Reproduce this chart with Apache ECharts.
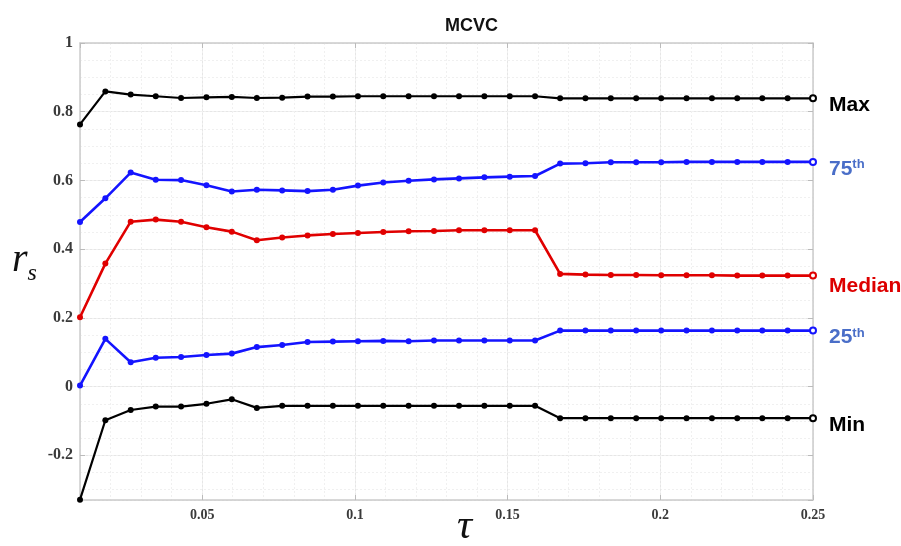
<!DOCTYPE html>
<html>
<head>
<meta charset="utf-8">
<script src="https://cdn.jsdelivr.net/npm/echarts@6/dist/echarts.min.js"></script>
<style>
  html, body { margin: 0; padding: 0; background: #fff; }
  #chart { width: 901px; height: 546px; }
</style>
</head>
<body>
<div id="chart"></div>
<script>
// tau values (30 evenly spaced points)
const tau = [0.01, 0.0183, 0.0266, 0.0348, 0.0431, 0.0514, 0.0597, 0.0679, 0.0762, 0.0845,
             0.0928, 0.1010, 0.1093, 0.1176, 0.1259, 0.1341, 0.1424, 0.1507, 0.1590, 0.1672,
             0.1755, 0.1838, 0.1921, 0.2003, 0.2086, 0.2169, 0.2252, 0.2334, 0.2417, 0.25];

const maxVals = [0.763, 0.859, 0.850, 0.845, 0.840, 0.842, 0.843, 0.840, 0.841, 0.844,
                 0.844, 0.845, 0.845, 0.845, 0.845, 0.845, 0.845, 0.845, 0.845, 0.839,
                 0.839, 0.839, 0.839, 0.839, 0.839, 0.839, 0.839, 0.839, 0.839, 0.839];
const p75Vals = [0.479, 0.548, 0.623, 0.602, 0.601, 0.586, 0.568, 0.573, 0.571, 0.569,
                 0.573, 0.585, 0.594, 0.599, 0.603, 0.606, 0.609, 0.611, 0.613, 0.649,
                 0.650, 0.653, 0.653, 0.653, 0.654, 0.654, 0.654, 0.654, 0.654, 0.654];
const medianVals = [0.202, 0.358, 0.480, 0.486, 0.480, 0.464, 0.451, 0.426, 0.434, 0.440,
                    0.444, 0.447, 0.450, 0.452, 0.453, 0.455, 0.455, 0.455, 0.455, 0.328,
                    0.326, 0.325, 0.325, 0.324, 0.324, 0.324, 0.323, 0.323, 0.323, 0.323];
const p25Vals = [0.003, 0.139, 0.071, 0.084, 0.086, 0.092, 0.096, 0.115, 0.121, 0.130,
                 0.131, 0.132, 0.133, 0.132, 0.134, 0.134, 0.134, 0.134, 0.134, 0.163,
                 0.163, 0.163, 0.163, 0.163, 0.163, 0.163, 0.163, 0.163, 0.163, 0.163];
const minVals = [-0.329, -0.098, -0.068, -0.058, -0.058, -0.050, -0.037, -0.062, -0.056, -0.056,
                 -0.056, -0.056, -0.056, -0.056, -0.056, -0.056, -0.056, -0.056, -0.056, -0.092,
                 -0.092, -0.092, -0.092, -0.092, -0.092, -0.092, -0.092, -0.092, -0.092, -0.092];

const xMin = 0.01, xMax = 0.25;
const yMin = -0.33, yMax = 1;

function pairs(vals) {
    return vals.map(function (v, i) {
        const item = { value: [tau[i], v] };
        if (i === vals.length - 1) item.symbol = 'emptyCircle';
        return item;
    });
}

function makeSeries(name, vals, color, width, labelColor, label, offset) {
    return {
        name: name,
        type: 'line',
        xAxisIndex: 0,
        yAxisIndex: 0,
        data: pairs(vals),
        symbol: 'circle',
        symbolSize: 6,
        lineStyle: { color: color, width: width },
        itemStyle: { color: color },
        emphasis: { disabled: true },
        endLabel: {
            show: true,
            formatter: label,
            offset: offset,
            color: labelColor,
            fontFamily: 'Liberation Sans, Arial, sans-serif',
            fontWeight: 'bold',
            fontSize: 21,
            rich: {
                b: { fontSize: 21, fontWeight: 'bold', color: labelColor,
                     fontFamily: 'Liberation Sans, Arial, sans-serif' },
                sup: { fontSize: 13, fontWeight: 'bold', color: labelColor, verticalAlign: 'top',
                       fontFamily: 'Liberation Sans, Arial, sans-serif', padding: [0, 0, 9, 0] }
            }
        }
    };
}

const chart = echarts.init(document.getElementById('chart'));
chart.setOption({
    animation: false,
    title: {
        text: 'MCVC',
        left: 440,
        top: 12,
        textStyle: { fontFamily: 'Liberation Sans, Arial, sans-serif', fontWeight: 'bold', fontSize: 18, color: '#111' }
    },
    grid: { left: 80, right: 88, top: 43, bottom: 46 },
    xAxis: [
        {
            type: 'value', position: 'bottom', min: xMin, max: xMax,
            minInterval: 0.05, maxInterval: 0.05,
            axisLine: { show: true, onZero: false, lineStyle: { color: '#cccccc', width: 1.5 } },
            axisTick: { show: true, inside: true, length: 5, lineStyle: { color: '#bbbbbb' } },
            axisLabel: {
                showMinLabel: false, margin: 8,
                color: '#3a3a3a', fontFamily: 'Liberation Serif, Times New Roman, serif',
                fontWeight: 'bold', fontSize: 14
            },
            splitLine: { show: true, lineStyle: { color: '#e6e6e6', width: 1 } }
        },
        {
            type: 'value', position: 'top', min: xMin, max: xMax,
            minInterval: 0.05, maxInterval: 0.05,
            axisLine: { show: true, onZero: false, lineStyle: { color: '#cccccc', width: 1.5 } },
            axisTick: { show: true, inside: true, length: 5, lineStyle: { color: '#bbbbbb' } },
            axisLabel: { show: false },
            splitLine: { show: false }
        },
        {
            type: 'value', position: 'bottom', min: xMin, max: xMax,
            minInterval: 0.01, maxInterval: 0.01,
            axisLine: { show: false },
            axisTick: { show: false },
            axisLabel: { show: false },
            splitLine: { show: true, lineStyle: { color: '#f0f0f0', width: 1, type: [2, 2] } },
            z: 0
        }
    ],
    yAxis: [
        {
            type: 'value', position: 'left', min: yMin, max: yMax,
            minInterval: 0.2, maxInterval: 0.2,
            axisLine: { show: true, onZero: false, lineStyle: { color: '#cccccc', width: 1.5 } },
            axisTick: { show: true, inside: true, length: 5, lineStyle: { color: '#bbbbbb' } },
            axisLabel: {
                showMinLabel: false, margin: 7,
                color: '#3a3a3a', fontFamily: 'Liberation Serif, Times New Roman, serif',
                fontWeight: 'bold', fontSize: 16
            },
            splitLine: { show: true, lineStyle: { color: '#e6e6e6', width: 1 } }
        },
        {
            type: 'value', position: 'right', min: yMin, max: yMax,
            minInterval: 0.2, maxInterval: 0.2,
            axisLine: { show: true, onZero: false, lineStyle: { color: '#cccccc', width: 1.5 } },
            axisTick: { show: true, inside: true, length: 5, lineStyle: { color: '#bbbbbb' } },
            axisLabel: { show: false },
            splitLine: { show: false }
        },
        {
            type: 'value', position: 'left', min: yMin, max: yMax,
            minInterval: 0.05, maxInterval: 0.05,
            axisLine: { show: false },
            axisTick: { show: false },
            axisLabel: { show: false },
            splitLine: { show: true, lineStyle: { color: '#f0f0f0', width: 1, type: [2, 2] } },
            z: 0
        }
    ],
    graphic: [
        {
            type: 'text', left: 12, top: 240,
            style: {
                text: '{r|r}{s|s}',
                rich: {
                    r: { fontFamily: 'Liberation Serif, Times New Roman, serif', fontStyle: 'italic', fontSize: 40, fill: '#111' },
                    s: { fontFamily: 'Liberation Serif, Times New Roman, serif', fontStyle: 'italic', fontSize: 24, fill: '#111', padding: [28, 0, 0, 0] }
                }
            }
        },
        {
            type: 'text', left: 457, top: 506,
            style: {
                text: 'τ',
                fontFamily: 'Liberation Serif, Times New Roman, serif', fontStyle: 'italic',
                fontSize: 42, fill: '#111'
            }
        }
    ],
    series: [
        makeSeries('Max', maxVals, '#000000', 2.2, '#000000', '{b|Max}', [8, 7]),
        makeSeries('75th', p75Vals, '#1414ff', 2.6, '#4a6ec8', '{b|75}{sup|th}', [8, 7]),
        makeSeries('Median', medianVals, '#e00000', 2.6, '#dd0000', '{b|Median}', [8, 11]),
        makeSeries('25th', p25Vals, '#1414ff', 2.6, '#4a6ec8', '{b|25}{sup|th}', [8, 7]),
        makeSeries('Min', minVals, '#000000', 2.2, '#000000', '{b|Min}', [8, 7])
    ]
});
</script>
</body>
</html>
